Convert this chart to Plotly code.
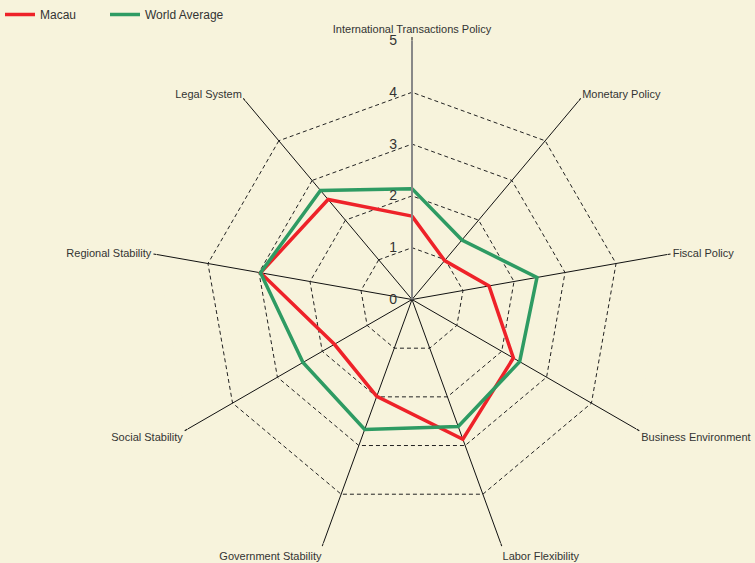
import plotly.graph_objects as go

categories = ["International Transactions Policy", "Monetary Policy", "Fiscal Policy",
              "Business Environment", "Labor Flexibility", "Government Stability",
              "Social Stability", "Regional Stability", "Legal System"]
macau = [1.61, 0.98, 1.51, 2.26, 2.87, 1.99, 1.73, 2.97, 2.52]
world = [2.14, 1.50, 2.45, 2.40, 2.61, 2.67, 2.43, 2.97, 2.75]
radial_ticks = [0, 1, 2, 3, 4, 5]

BG = "#F7F3DC"
fig = go.Figure()
fig.add_trace(go.Scatterpolar(r=macau + macau[:1], theta=categories + categories[:1],
                              mode="lines", name="Macau", legend="legend",
                              line=dict(color="#EE2229", width=3.5)))
fig.add_trace(go.Scatterpolar(r=world + world[:1], theta=categories + categories[:1],
                              mode="lines", name="World Average", legend="legend2",
                              line=dict(color="#2E9B63", width=3.5)))

leg_common = dict(orientation="h", xref="container", yref="container",
                  y=1, xanchor="left", yanchor="top",
                  font=dict(size=12, color="#333333"), bgcolor="rgba(0,0,0,0)")

fig.update_layout(
    width=755, height=563,
    paper_bgcolor=BG, plot_bgcolor=BG,
    font=dict(family="Liberation Sans, Arial, sans-serif", color="#333333", size=11),
    margin=dict(l=153, r=84, t=40, b=4),
    showlegend=True,
    legend=dict(x=0, **leg_common),
    legend2=dict(x=105 / 755, **leg_common),
    polar=dict(
        bgcolor=BG,
        gridshape="linear",
        domain=dict(x=[0, 1], y=[0, 1]),
        radialaxis=dict(range=[0, 5.0001], tickvals=radial_ticks, ticktext=[str(v) for v in radial_ticks],
                        angle=90, tickangle=90, side="counterclockwise",
                        showline=True, linecolor="#888888", linewidth=2,
                        gridcolor="#222222", griddash="4px,3px", gridwidth=1,
                        ticks="outside", ticklen=9, tickcolor="rgba(0,0,0,0)",
                        tickfont=dict(size=14, color="#333333")),
        angularaxis=dict(direction="clockwise", rotation=90,
                         showline=False, gridcolor="#111111", gridwidth=1,
                         ticks="outside", ticklen=3, tickcolor="#111111",
                         tickfont=dict(size=11, color="#333333")),
    ),
)

fig.write_html("out.html", config={"displayModeBar": False},
               post_script="document.body.style.margin='0';")
